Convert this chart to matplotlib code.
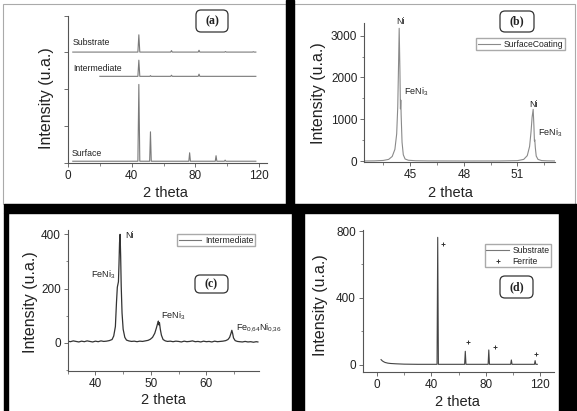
import matplotlib
matplotlib.use("Agg")
import matplotlib.pyplot as plt
from matplotlib.patches import Rectangle, FancyBboxPatch
from matplotlib.lines import Line2D
from matplotlib.ticker import MultipleLocator, NullFormatter

plt.rcParams['font.family'] = ['Liberation Sans', 'DejaVu Sans']
plt.rcParams['mathtext.default'] = 'regular'

W, H = 577, 411

# (a) stacked patterns (offset, arbitrary units)
sub_a_x = [3, 43.9, 44.5, 45.1, 64.5, 65.0, 65.5, 81.8, 82.3, 82.8, 98.4, 98.9, 99.4, 115.9, 116.4, 116.9, 118]
sub_a_y = [3.01, 3.01, 3.48, 3.01, 3.01, 3.05, 3.01, 3.01, 3.06, 3.01, 3.01, 3.025, 3.01, 3.01, 3.02, 3.01, 3.01]
int_a_x = [20, 43.9, 44.5, 45.1, 51.4, 51.8, 52.2, 64.5, 65.0, 65.5, 81.8, 82.3, 82.8, 118]
int_a_y = [2.35, 2.35, 2.79, 2.35, 2.35, 2.37, 2.35, 2.35, 2.38, 2.35, 2.35, 2.41, 2.35, 2.35]
surf_a_x = [3, 43.9, 44.5, 45.1, 51.3, 51.8, 52.3, 75.9, 76.4, 76.9, 92.5, 93.0, 93.5, 98.2, 98.7, 99.2, 118]
surf_a_y = [0.04, 0.04, 2.13, 0.04, 0.04, 0.84, 0.04, 0.04, 0.27, 0.04, 0.04, 0.19, 0.04, 0.04, 0.07, 0.04, 0.04]

# (b) surface coating
b_x = [42.4, 43.0, 43.5, 43.8, 44.0, 44.15, 44.25, 44.31, 44.35, 44.39,
       44.43, 44.46, 44.48, 44.5, 44.55, 44.62, 44.72, 44.9, 45.3, 46.0,
       48.0, 50.0, 51.0, 51.35, 51.55, 51.68, 51.76, 51.82, 51.88, 51.92,
       51.95, 51.97, 52.0, 52.05, 52.15, 52.35, 52.7, 53.1]
b_y = [2, 5, 15, 40, 110, 280, 650, 1300, 2200, 3176,
       2200, 1250, 1460, 1100, 450, 150, 50, 20, 8, 4,
       2, 3, 10, 40, 130, 350, 700, 1050, 1237, 850,
       480, 510, 320, 120, 40, 12, 5, 3]

# (c) intermediate
c_x = [35.0, 35.5, 36.0, 36.5, 37.0, 37.5, 38.0, 38.5, 39.0, 39.5,
       40.0, 40.5, 41.0, 41.5, 42.0, 42.5, 43.0, 43.3, 43.6, 43.8,
       43.95, 44.05, 44.15, 44.25, 44.35, 44.45, 44.55, 44.65, 44.8, 45.0,
       45.3, 45.6, 46.0, 46.5, 47.0, 47.5, 48.0, 48.5, 49.0, 49.5,
       49.9, 50.3, 50.7, 51.0, 51.2, 51.35, 51.45, 51.55, 51.7, 51.9,
       52.2, 52.6, 53.0, 53.5, 54.0, 54.5, 55.0, 55.5, 56.0, 56.5,
       57.0, 57.5, 58.0, 58.5, 59.0, 59.5, 60.0, 60.5, 61.0, 61.5,
       62.0, 62.5, 63.0, 63.5, 63.9, 64.2, 64.45, 64.6, 64.75, 64.9,
       65.2, 65.6, 66.0, 66.5, 67.0, 67.5, 68.0, 68.5, 69.0, 69.3]
c_y = [6, 4, 7, 5, 3, 6, 4, 7, 5, 3,
       6, 4, 7, 5, 6, 8, 12, 25, 60, 150,
       205, 215, 225, 290, 370, 400, 320, 210, 110, 50,
       20, 10, 7, 5, 6, 4, 6, 5, 7, 9,
       13, 20, 35, 55, 70, 80, 66, 74, 50, 28,
       12, 7, 5, 6, 4, 6, 5, 3, 6, 4,
       5, 7, 4, 5, 3, 6, 4, 5, 3, 6,
       4, 5, 6, 8, 12, 20, 35, 46, 34, 18,
       8, 5, 4, 3, 5, 3, 4, 2, 4, 3]

# (d) substrate + ferrite markers
d_x = [3, 3.5, 4, 5, 6, 8, 10, 14, 20, 30, 44.2, 44.7, 45.2, 64.5, 65.0, 65.5,
       81.8, 82.3, 82.8, 98.4, 98.9, 99.4, 115.9, 116.4, 116.9, 118]
d_y = [30, 26, 22, 17, 13, 9, 7, 5, 3, 2, 2, 762, 2, 2, 80, 2,
       2, 88, 2, 2, 28, 2, 2, 24, 2, 2]
ferrite_x = [48.6, 67.1, 86.7, 116.7]
ferrite_y = [720, 133, 105, 64]

TXT = '#222222'

fig = plt.figure(figsize=(W / 100, H / 100), dpi=100)


def rect(x0, y0, x1, y1, **kw):
    r = Rectangle((x0 / 100, (H - y1) / 100), (x1 - x0) / 100, (y1 - y0) / 100,
                  transform=fig.dpi_scale_trans, zorder=-1, **kw)
    fig.add_artist(r)


def px_axes(x0, y0, x1, y1):
    ax = fig.add_axes([x0 / W, 1 - y1 / H, (x1 - x0) / W, (y1 - y0) / H])
    ax.patch.set_visible(False)
    for s in ['top', 'right']:
        ax.spines[s].set_visible(False)
    for s in ['left', 'bottom']:
        ax.spines[s].set_color('#555555')
        ax.spines[s].set_linewidth(0.8)
    ax.tick_params(which='major', direction='out', length=3, width=0.6,
                   color='#555555', labelsize=8.5, labelcolor=TXT, pad=2)
    ax.tick_params(which='minor', direction='out', length=1.8, width=0.5,
                   color='#555555')
    return ax


def panel_tag(x0, y0, x1, y1, label):
    box = FancyBboxPatch((x0 / 100, (H - y1) / 100), (x1 - x0) / 100, (y1 - y0) / 100,
                         boxstyle='round,pad=0,rounding_size=0.05',
                         transform=fig.dpi_scale_trans, fc='white', ec='#333333', lw=0.9)
    fig.add_artist(box)
    fig.text((x0 + x1) / 2 / W, 1 - (y0 + y1) / 2 / H, label, ha='center', va='center',
             family=['Liberation Serif', 'DejaVu Serif'], fontweight='bold',
             fontsize=8.5, color=TXT)


def labels(xl, yl):
    fig.text(xl[0] / W, 1 - xl[1] / H, '2 theta', ha='center', va='center',
             fontsize=10.5, color=TXT)
    fig.text(yl[0] / W, 1 - yl[1] / H, 'Intensity (u.a.)', ha='center', va='center',
             rotation=90, fontsize=11.5, color=TXT)


# frames and black separators
rect(3, 4, 286, 204, fc='white', ec='#aaaaaa', lw=0.8)
rect(294, 4, 575, 204, fc='white', ec='#aaaaaa', lw=0.8)
rect(286, 0, 294, 204, color='black')
rect(4, 204, 577, 213, color='black')
rect(4, 213, 8, 411, color='black')
rect(292, 213, 304, 411, color='black')
rect(559, 213, 577, 411, color='black')

# (a)
ax = px_axes(68, 15.7, 267, 162.7)
ax.plot(sub_a_x, sub_a_y, color='#7a7a7a', lw=0.8)
ax.plot(int_a_x, int_a_y, color='#7a7a7a', lw=0.8)
ax.plot(surf_a_x, surf_a_y, color='#7a7a7a', lw=0.8)
ax.set_xlim(0, 125)
ax.set_ylim(0, 4)
ax.set_xticks([0, 40, 80, 120])
ax.xaxis.set_minor_locator(MultipleLocator(20))
ax.set_yticks([0, 1, 2, 3, 4])
ax.yaxis.set_major_formatter(NullFormatter())
ax.text(3.1, 3.26, 'Substrate', fontsize=6.3, color=TXT, va='center')
ax.text(3.0, 2.55, 'Intermediate', fontsize=6.3, color=TXT, va='center')
ax.text(2.4, 0.24, 'Surface', fontsize=6.3, color=TXT, va='center')
labels((165, 193), (47, 98))
panel_tag(196, 10, 228, 32, '(a)')

# (b)
ax = px_axes(364.3, 22.7, 555, 161.7)
ax.plot(b_x, b_y, color='#8a8a8a', lw=0.8)
ax.set_xlim(42.44, 53.1)
ax.set_ylim(-15, 3310)
ax.set_xticks([45, 48, 51])
ax.xaxis.set_minor_locator(MultipleLocator(1.5))
ax.set_yticks([0, 1000, 2000, 3000])
ax.yaxis.set_minor_locator(MultipleLocator(500))
ax.text(44.49, 3330, 'Ni', fontsize=6.5, color=TXT, ha='center', va='center')
ax.text(44.66, 1658, 'FeNi$_3$', fontsize=6.5, color=TXT, va='center')
ax.text(51.92, 1364, 'Ni', fontsize=6.5, color=TXT, ha='center', va='center')
ax.text(52.14, 670, 'FeNi$_3$', fontsize=6.5, color=TXT, va='center')
ax.legend([Line2D([], [], color='#8a8a8a', lw=0.8)], ['SurfaceCoating'],
          loc='upper right', bbox_to_anchor=(1.052, 0.89), borderaxespad=0,
          fontsize=6.2, fancybox=False, edgecolor='#aaaaaa', framealpha=1,
          handlelength=2.6, handletextpad=0.4, borderpad=0.2, labelcolor=TXT)
labels((450, 193), (318.7, 93))
panel_tag(500, 11, 534, 32, '(b)')

# (c)
ax = px_axes(67.7, 230, 259, 370.7)
ax.plot(c_x, c_y, color='#333333', lw=0.9)
ax.set_xlim(35, 69.5)
ax.set_ylim(-103, 416)
ax.set_xticks([40, 50, 60])
ax.xaxis.set_minor_locator(MultipleLocator(5))
ax.set_yticks([0, 200, 400])
ax.yaxis.set_minor_locator(MultipleLocator(100))
ax.text(45.3, 394, 'Ni', fontsize=6.5, color=TXT, va='center')
ax.text(43.5, 250, 'FeNi$_3$', fontsize=6.5, color=TXT, ha='right', va='center')
ax.text(51.8, 99, 'FeNi$_3$', fontsize=6.5, color=TXT, va='center')
ax.text(65.3, 54, 'Fe$_{0{,}64}$Ni$_{0{,}36}$', fontsize=6.5, color=TXT, va='center')
ax.legend([Line2D([], [], color='#777777', lw=0.8)], ['Intermediate'],
          loc='upper right', bbox_to_anchor=(0.979, 0.972), borderaxespad=0,
          fontsize=6.2, fancybox=False, edgecolor='#aaaaaa', framealpha=1,
          handlelength=2.6, handletextpad=0.4, borderpad=0.2, labelcolor=TXT)
labels((163, 400), (30, 302))
panel_tag(195, 275, 228, 293, '(c)')

# (d)
ax = px_axes(363, 230, 554, 372)
ax.plot(d_x, d_y, color='#444444', lw=0.8)
ax.plot(ferrite_x, ferrite_y, ls='none', marker='+', ms=3.5, mew=0.7, color='#333333')
ax.set_xlim(-10.3, 130.3)
ax.set_ylim(-44, 806)
ax.set_xticks([0, 40, 80, 120])
ax.xaxis.set_minor_locator(MultipleLocator(20))
ax.set_yticks([0, 400, 800])
ax.yaxis.set_minor_locator(MultipleLocator(200))
ax.legend([Line2D([], [], color='#777777', lw=0.8),
           Line2D([], [], ls='none', marker='+', ms=3.5, mew=0.7, color='#333333')],
          ['Substrate', 'Ferrite'],
          loc='upper right', bbox_to_anchor=(0.985, 0.90), borderaxespad=0,
          fontsize=6.2, fancybox=False, edgecolor='#aaaaaa', framealpha=1,
          handlelength=2.6, handletextpad=0.4, borderpad=0.2, labelspacing=0.2,
          labelcolor=TXT)
labels((457, 402), (320, 305))
panel_tag(500, 276, 533, 298, '(d)')

fig.savefig('out.png', dpi=100)
